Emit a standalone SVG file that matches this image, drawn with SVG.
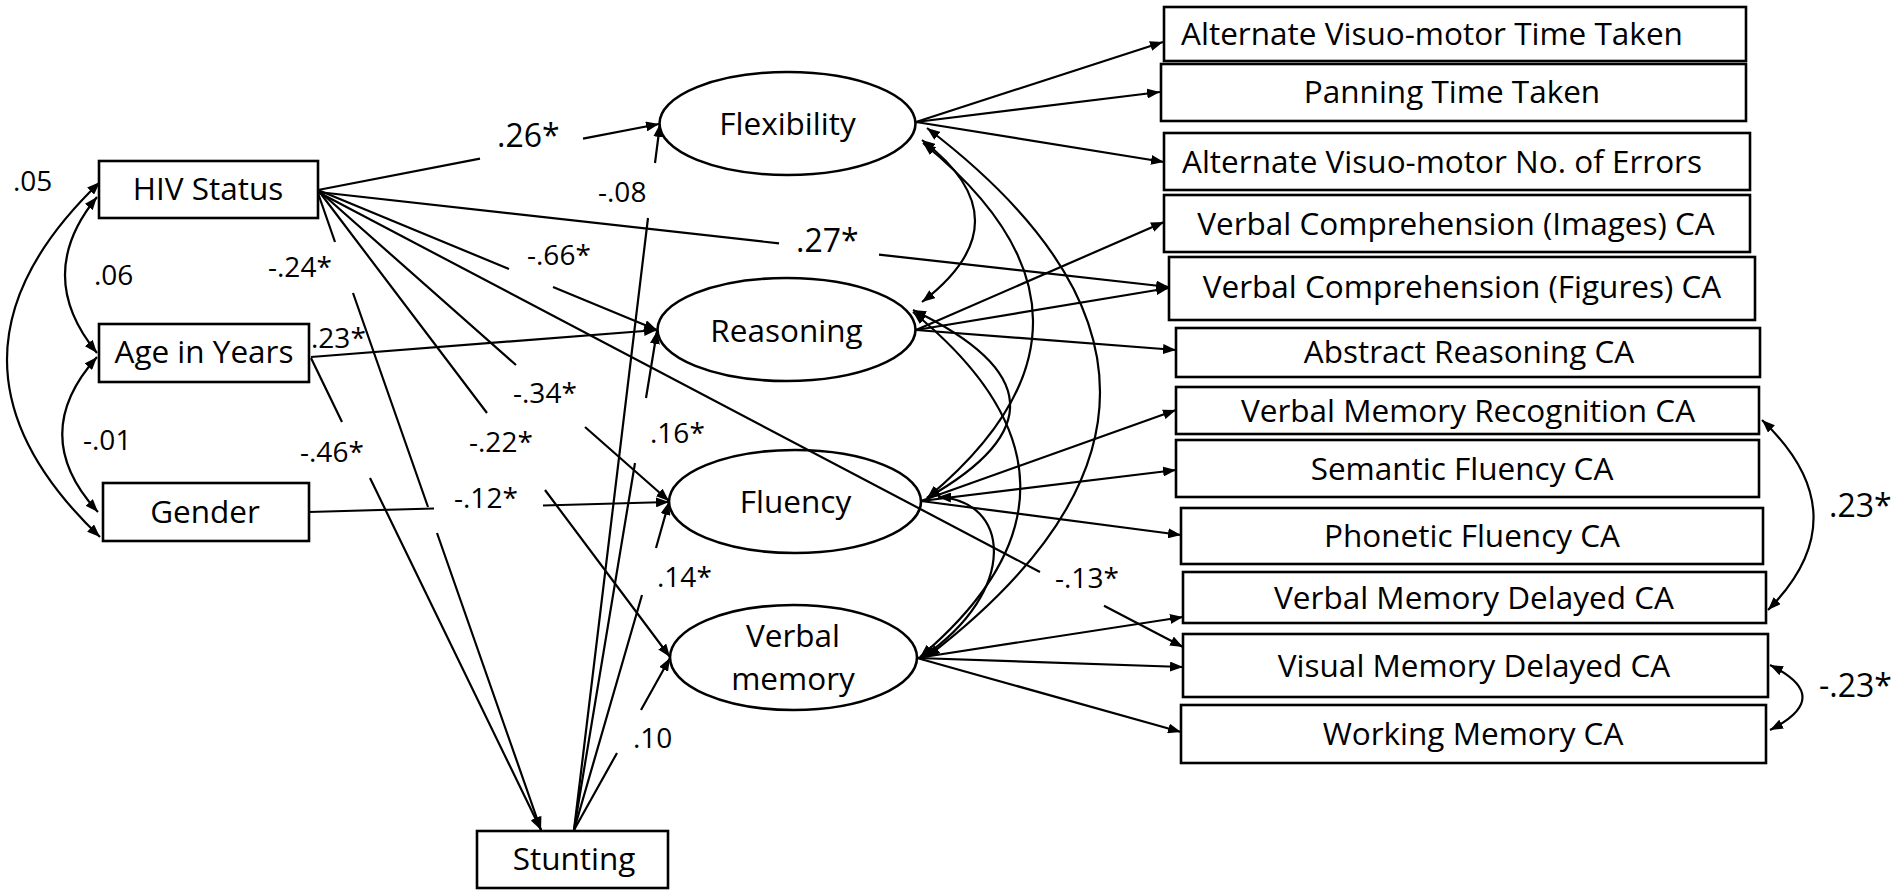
<svg xmlns="http://www.w3.org/2000/svg" width="1902" height="896" viewBox="0 0 1902 896">
<style>
.box{fill:#fff;stroke:#000;stroke-width:2.6}
.ell{fill:none;stroke:#000;stroke-width:2.6}
.t{font-family:"Open Sans","Liberation Sans",sans-serif;font-size:31.5px;fill:#000;text-anchor:middle}
.lb{font-family:"Open Sans","Liberation Sans",sans-serif;font-size:28px;fill:#000}
.lbb{font-family:"Open Sans","Liberation Sans",sans-serif;font-size:32px;fill:#000}
.c{fill:none;stroke:#000;stroke-width:2.2}
.a{marker-end:url(#ah)}
.d{marker-start:url(#ah);marker-end:url(#ah)}
</style>
<defs>
<marker id="ah" viewBox="0 0 13 10" refX="13" refY="5" markerWidth="13" markerHeight="10" markerUnits="userSpaceOnUse" orient="auto-start-reverse">
<path d="M0,0 L13,5 L0,10 z" fill="#000"/>
</marker>
</defs>
<rect width="1902" height="896" fill="#fff"/>

<g id="connectors">
<!-- left covariances -->
<path class="c d" d="M100,182 Q-86,360 100,537"/>
<path class="c d" d="M97,197 Q33,275 97,353"/>
<path class="c d" d="M97,357 Q27,435 98,512"/>
<!-- HIV paths -->
<path class="c a" d="M318,190 L480,158.6 M583,138.7 L659,124"/>
<path class="c a" d="M318,190 L509,269 M553,287 L657,330"/>
<path class="c a" d="M318,192 L779,243.4 M879,254.6 L1169,287"/>
<path class="c a" d="M318,190 L516,365 M585,427 L669,501"/>
<path class="c a" d="M318,190 L487,413 M545,490 L670,657"/>
<path class="c a" d="M318,192 L1040,572 M1104,605.7 L1183,647"/>
<path class="c a" d="M318,193 L335,242 M353,293 L428,507 M437,533 L541,830"/>
<!-- Age paths -->
<path class="c a" d="M311,357 L657,330"/>
<path class="c a" d="M311,358 L342,422 M370,478 L541,830"/>
<!-- Gender -->
<path class="c a" d="M309,512 L434,508.5 M543,505.5 L669,502"/>
<!-- Stunting paths -->
<path class="c a" d="M574,830 L648,218 M655,163 L660,124"/>
<path class="c a" d="M574,830 L635,463 M646,398 L657,331"/>
<path class="c a" d="M574,830 L642,595 M656,548 L669,502"/>
<path class="c a" d="M574,830 L617,753 M641,710 L670,658"/>
<!-- Flexibility indicators -->
<path class="c a" d="M916,122 L1163,42"/>
<path class="c a" d="M916,122 L1160,92"/>
<path class="c a" d="M916,122 L1164,162"/>
<!-- Reasoning indicators -->
<path class="c a" d="M916,330 L1164,222"/>
<path class="c a" d="M916,330 L1169,288"/>
<path class="c a" d="M916,330 L1176,350"/>
<!-- Fluency indicators -->
<path class="c a" d="M921,501 L1176,410"/>
<path class="c a" d="M921,501 L1176,470"/>
<path class="c a" d="M921,501 L1181,535"/>
<!-- Verbal memory indicators -->
<path class="c a" d="M917,658 L1183,617"/>
<path class="c a" d="M917,658 L1183,667"/>
<path class="c a" d="M917,658 L1181,732"/>
<!-- latent covariances -->
<path class="c d" d="M922,140 Q1028,221 922,302"/>
<path class="c d" d="M923,143 Q1141,320 927,498"/>
<path class="c d" d="M927,128 Q1273,392 927,657"/>
<path class="c d" d="M913,310 Q1100,400 927,498"/>
<path class="c d" d="M913,312 Q1124,484 920,657"/>
<path class="c d" d="M938,497 C1010,500 1020,590 923,657"/>
<!-- residual covariances -->
<path class="c d" d="M1762,420 Q1862,515 1768,610"/>
<path class="c d" d="M1770,665 Q1835,697 1770,730"/>
</g>

<g id="labels">
<text class="lb" x="13" y="191">.05</text>
<text class="lb" x="94" y="285">.06</text>
<text class="lb" x="83" y="450">-.01</text>
<text class="lbb" x="497" y="147">.26*</text>
<text class="lb" x="598" y="202">-.08</text>
<text class="lb" x="268" y="277">-.24*</text>
<text class="lb" x="527" y="265">-.66*</text>
<text class="lb" x="311" y="348">.23*</text>
<text class="lb" x="513" y="403">-.34*</text>
<text class="lb" x="469" y="452">-.22*</text>
<text class="lb" x="300" y="462">-.46*</text>
<text class="lb" x="650" y="443">.16*</text>
<text class="lb" x="454" y="508">-.12*</text>
<text class="lbb" x="796" y="252">.27*</text>
<text class="lb" x="657" y="587">.14*</text>
<text class="lb" x="633" y="748">.10</text>
<text class="lb" x="1055" y="588">-.13*</text>
<text class="lbb" x="1829" y="517">.23*</text>
<text class="lbb" x="1819" y="697">-.23*</text>
</g>

<g id="hiv"><rect class="box" x="99" y="161" width="219" height="57"/><text class="t" x="208" y="200">HIV Status</text></g>
<g id="age"><rect class="box" x="99" y="324" width="210" height="58"/><text class="t" x="204" y="363">Age in Years</text></g>
<g id="gender"><rect class="box" x="103" y="483" width="206" height="58"/><text class="t" x="205" y="523">Gender</text></g>
<g id="stunting"><rect class="box" x="477" y="831" width="191" height="57"/><text class="t" x="574" y="870">Stunting</text></g>

<g id="flexibility"><ellipse class="ell" cx="787.5" cy="123.5" rx="128" ry="51.5"/><text class="t" x="787.5" y="135">Flexibility</text></g>
<g id="reasoning"><ellipse class="ell" cx="786.5" cy="329.5" rx="129" ry="51.5"/><text class="t" x="786.5" y="342">Reasoning</text></g>
<g id="fluency"><ellipse class="ell" cx="795" cy="501.5" rx="126" ry="51.5"/><text class="t" x="795.5" y="513">Fluency</text></g>
<g id="verbal-memory"><ellipse class="ell" cx="793.5" cy="657.5" rx="123.5" ry="52.5"/><text class="t" x="793" y="647">Verbal</text><text class="t" x="793" y="690">memory</text></g>

<g id="avm-time"><rect class="box" x="1164" y="7" width="582" height="54"/><text class="t" x="1432" y="45">Alternate Visuo-motor Time Taken</text></g>
<g id="panning"><rect class="box" x="1161" y="64" width="585" height="57"/><text class="t" x="1452" y="103">Panning Time Taken</text></g>
<g id="avm-errors"><rect class="box" x="1164" y="133" width="586" height="57"/><text class="t" x="1442" y="173">Alternate Visuo-motor No. of Errors</text></g>
<g id="vc-images"><rect class="box" x="1164" y="195" width="586" height="57"/><text class="t" x="1456" y="235">Verbal Comprehension (Images) CA</text></g>
<g id="vc-figures"><rect class="box" x="1169" y="257" width="586" height="63"/><text class="t" x="1462" y="298">Verbal Comprehension (Figures) CA</text></g>
<g id="abstract"><rect class="box" x="1176" y="328" width="584" height="49"/><text class="t" x="1469" y="363">Abstract Reasoning CA</text></g>
<g id="vm-recognition"><rect class="box" x="1176" y="387" width="583" height="47"/><text class="t" x="1468" y="422">Verbal Memory Recognition CA</text></g>
<g id="semantic"><rect class="box" x="1176" y="440" width="583" height="57"/><text class="t" x="1462" y="480">Semantic Fluency CA</text></g>
<g id="phonetic"><rect class="box" x="1181" y="508" width="582" height="56"/><text class="t" x="1472" y="547">Phonetic Fluency CA</text></g>
<g id="vm-delayed"><rect class="box" x="1183" y="572" width="583" height="51"/><text class="t" x="1474" y="609">Verbal Memory Delayed CA</text></g>
<g id="visual-delayed"><rect class="box" x="1183" y="634" width="585" height="63"/><text class="t" x="1474" y="677">Visual Memory Delayed CA</text></g>
<g id="working"><rect class="box" x="1181" y="705" width="585" height="58"/><text class="t" x="1473" y="745">Working Memory CA</text></g>
</svg>
